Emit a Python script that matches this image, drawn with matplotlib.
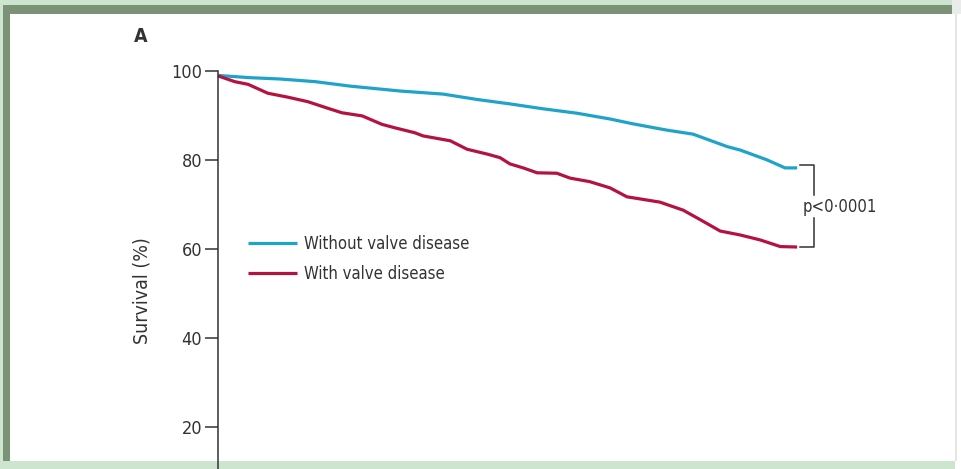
import matplotlib.pyplot as plt
from matplotlib.patches import Rectangle

plt.rcParams['font.family'] = ['DejaVu Sans']
plt.rcParams['font.stretch'] = 'condensed'

# follow-up time (years) and survival (%) for each group
t_without = [0.0, 0.55, 1.07, 1.68, 2.28, 3.14, 3.89, 4.47, 5.04, 5.61, 6.20,
             6.77, 7.17, 7.75, 8.20, 8.79, 9.02, 9.48, 9.79, 10.0]
s_without = [99.0, 98.5, 98.2, 97.6, 96.6, 95.5, 94.8, 93.6, 92.6, 91.5, 90.5,
             89.2, 88.1, 86.7, 85.8, 83.0, 82.2, 80.0, 78.2, 78.2]

t_with = [0.0, 0.29, 0.52, 0.86, 1.21, 1.55, 1.90, 2.14, 2.49, 2.83, 3.06,
          3.40, 3.54, 4.01, 4.30, 4.65, 4.87, 5.04, 5.27, 5.51, 5.85, 6.08,
          6.42, 6.77, 7.06, 7.63, 8.03, 8.32, 8.67, 9.02, 9.36, 9.71, 10.0]
s_with = [98.9, 97.6, 97.0, 95.0, 94.1, 93.1, 91.6, 90.6, 89.9, 88.0, 87.2,
          86.1, 85.4, 84.3, 82.4, 81.3, 80.5, 79.1, 78.2, 77.1, 77.0, 75.9,
          75.1, 73.7, 71.7, 70.5, 68.7, 66.6, 64.0, 63.1, 62.0, 60.5, 60.4]

labels = ['Without valve disease', 'With valve disease']
y_ticks = [20, 40, 60, 80, 100]
p_text = 'p<0\u00b70001'

W, H = 961, 469
fig = plt.figure(figsize=(W / 100, H / 100), dpi=100)


def px(x, y):
    # pixel position (from top-left) -> figure fraction
    return x / W, 1 - y / H


def frame_rect(x0, y0, x1, y1, color):
    fx, fy = px(x0, y1)
    fig.add_artist(Rectangle((fx, fy), (x1 - x0) / W, (y1 - y0) / H,
                             transform=fig.transFigure, color=color,
                             lw=0, zorder=-5))


# page border
frame_rect(0, 0, 952, 5, '#cde5cf')
frame_rect(0, 5, 955, 14, '#7a9376')
frame_rect(0, 0, 3, 469, '#cde5cf')
frame_rect(3, 5, 10, 461, '#7a9376')
frame_rect(0, 461, 955, 469, '#cde5cf')
frame_rect(952, 0, 961, 14, '#e9ecea')
frame_rect(955, 14, 957, 461, '#e4e6e4')

ax = fig.add_axes([218 / W, 1 - 515.5 / H, (913 - 218) / W, 444.5 / H])
ax.set_facecolor('none')
ax.set_xlim(0, 12)
ax.set_ylim(0, 100)

c_without = '#1fa3ca'
c_with = '#b5133f'
ax.plot(t_without, s_without, color=c_without, lw=2.3, label=labels[0],
        solid_capstyle='butt', clip_on=False)
ax.plot(t_with, s_with, color=c_with, lw=2.3, label=labels[1],
        solid_capstyle='butt', clip_on=False)

for s in ['top', 'right', 'bottom']:
    ax.spines[s].set_visible(False)
ax.spines['left'].set_color('#333333')
ax.spines['left'].set_linewidth(1.1)
ax.set_xticks([])
ax.set_yticks(y_ticks)
ax.tick_params(axis='y', length=9.5, width=1.1, color='#333333', pad=2,
               labelsize=13, labelcolor='#333333')

ax.set_ylabel('Survival (%)', fontsize=14, color='#333333')
ax.yaxis.set_label_coords(-0.095, 0.507)

fig.text(141 / W, 1 - 37 / H, 'A', fontsize=14, fontweight='bold',
         color='#333333', ha='center', va='center')

# bracket with p value
bx0, bx1 = 10.05, 10.29
top, bot = s_without[-1] + 0.6, s_with[-1]
kw = dict(color='#333333', lw=1.1, clip_on=False)
ax.plot([bx0, bx1, bx1], [top, top, 72.1], **kw)
ax.plot([bx1, bx1, bx0], [66.9, bot, bot], **kw)
ax.text(10.1, 69.3, p_text, fontsize=12, color='#333333', ha='left',
        va='center')

leg = ax.legend(loc='upper left', bbox_to_anchor=(233 / W, 1 - 220 / H),
                bbox_transform=fig.transFigure, frameon=False, fontsize=12,
                handlelength=2.95, handletextpad=0.42, labelspacing=0.72)
for txt in leg.get_texts():
    txt.set_color('#333333')

fig.savefig('out.png', dpi=100)
